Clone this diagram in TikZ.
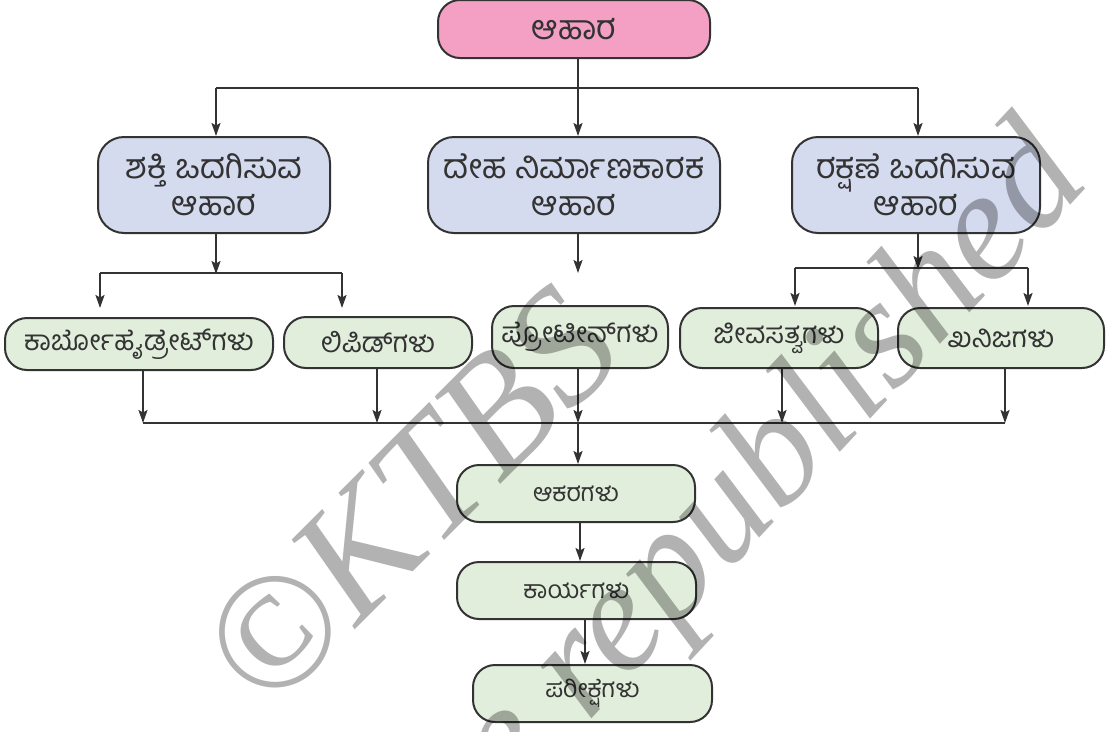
\documentclass[tikz,border=0pt]{standalone}
\usepackage{fontspec}
\setmainfont{Liberation Serif}
\newfontfamily\kn[Script=Kannada]{Hind Mysuru}
\usetikzlibrary{arrows.meta}
\definecolor{linec}{HTML}{333333}
\definecolor{rootfill}{HTML}{F4A0C4}
\definecolor{groupfill}{HTML}{D5DBEF}
\definecolor{itemfill}{HTML}{E2EEDC}
\tikzset{
  box/.style={draw=linec, line width=2pt, inner sep=0pt, rounded corners=22pt, text=linec},
  rootbox/.style={box, fill=rootfill, font=\kn\fontsize{34}{38}\selectfont},
  groupbox/.style={box, fill=groupfill, rounded corners=26pt, align=center, font=\kn\fontsize{34}{37}\selectfont},
  itembox/.style={box, fill=itemfill, font=\kn\fontsize{28}{30}\selectfont},
  stagebox/.style={box, fill=itemfill, font=\kn\fontsize{25}{28}\selectfont},
  link/.style={draw=linec, line width=2pt},
  arr/.style={link, -{Stealth[length=13pt,width=9pt,inset=2.5pt]}},
  wmark/.style={text=black, opacity=0.3, inner sep=0pt, font=\itshape\fontsize{165}{165}\selectfont}
}
\begin{document}
\begin{tikzpicture}[x=1pt,y=-1pt]
\useasboundingbox (0,0) rectangle (1110,731);
\clip (0,0) rectangle (1110,731);

% root
\node[rootbox, minimum width=272pt, minimum height=58pt] (root) at (574,29) {ಆಹಾರ};

% food groups
\node[groupbox, minimum width=232pt, minimum height=96pt] (energy) at (214,185) {ಶಕ್ತಿ ಒದಗಿಸುವ\\ಆಹಾರ};
\node[groupbox, minimum width=292pt, minimum height=96pt] (body) at (574,185) {ದೇಹ ನಿರ್ಮಾಣಕಾರಕ\\ಆಹಾರ};
\node[groupbox, minimum width=248pt, minimum height=96pt] (protect) at (916,185) {ರಕ್ಷಣೆ ಒದಗಿಸುವ\\ಆಹಾರ};

% nutrients
\node[itembox, minimum width=268pt, minimum height=52pt] (carb) at (139,344) {ಕಾರ್ಬೋಹೈಡ್ರೇಟ್‌ಗಳು\hspace{18pt}};
\node[itembox, minimum width=188pt, minimum height=51pt] (lipid) at (378,342.5) {ಲಿಪಿಡ್‌ಗಳು\hspace{32pt}};
\node[itembox, minimum width=176pt, minimum height=62pt] (prot) at (580,337) {ಪ್ರೋಟೀನ್‌ಗಳು\hspace{18pt}};
\node[itembox, minimum width=198pt, minimum height=60pt] (vit) at (779,338) {ಜೀವಸತ್ವಗಳು\hspace{18pt}};
\node[itembox, minimum width=206pt, minimum height=60pt] (min) at (1001,338) {ಖನಿಜಗಳು\hspace{48pt}};

% study stages
\node[stagebox, minimum width=238pt, minimum height=57pt] (src) at (576,493.5) {ಆಕರಗಳು};
\node[stagebox, minimum width=239pt, minimum height=57pt] (fn) at (576.5,590.5) {ಕಾರ್ಯಗಳು};
\node[stagebox, minimum width=239pt, minimum height=57pt] (test) at (592.5,693.5) {ಪರೀಕ್ಷೆಗಳು};

% junction points
\coordinate (topbar) at (578,88);
\coordinate (lbar) at (216,273);
\coordinate (rbar) at (918,268);
\coordinate (ptip) at (578,273);
\coordinate (carbin) at (100,308);
\coordinate (lipin) at (342,308);
\coordinate (vitin) at (795,306);
\coordinate (minin) at (1028,306);
\coordinate (joinbar) at (578,423);

% root to groups
\draw[link] (root.south -| topbar) -- (topbar);
\draw[link] (216,88) -- (918,88);
\draw[arr] (216,88) -- (energy.north -| 216,0);
\draw[arr] (topbar) -- (body.north -| topbar);
\draw[arr] (918,88) -- (protect.north -| 918,0);

% groups to nutrients
\draw[arr] (energy.south -| lbar) -- ([yshift=-1pt]lbar);
\draw[link] (lbar -| carbin) -- (lbar -| lipin);
\draw[arr] (lbar -| carbin) -- (carbin);
\draw[arr] (lbar -| lipin) -- (lipin);
\draw[arr] (body.south -| ptip) -- (ptip);
\draw[arr] (protect.south -| rbar) -- ([yshift=-1pt]rbar);
\draw[link] (rbar -| vitin) -- (rbar -| minin);
\draw[arr] (rbar -| vitin) -- (vitin);
\draw[arr] (rbar -| minin) -- (minin);

% nutrients to the joining bar
\draw[arr] (carb.south -| 143,0) -- (143,423);
\draw[arr] (lipid.south -| 377,0) -- (377,423);
\draw[arr] (prot.south -| joinbar) -- (joinbar);
\draw[arr] (vit.south -| 782,0) -- (782,423);
\draw[arr] (min.south -| 1005,0) -- (1005,423);
\draw[link] (143,423) -- (1005,423);

% joining bar to stages
\draw[arr] (joinbar) -- (src.north -| joinbar);
\draw[arr] (src.south -| 580,0) -- (fn.north -| 580,0);
\draw[arr] (fn.south -| 585,0) -- (test.north -| 585,0);

% watermark
\node[wmark, rotate=45] (wmA) at (410,498) {©KTBS};
\node[wmark, rotate=47, anchor=base east, font=\itshape\fontsize{158}{158}\selectfont] (wmB) at (1092,182) {Not to be republished};
\end{tikzpicture}
\end{document}
